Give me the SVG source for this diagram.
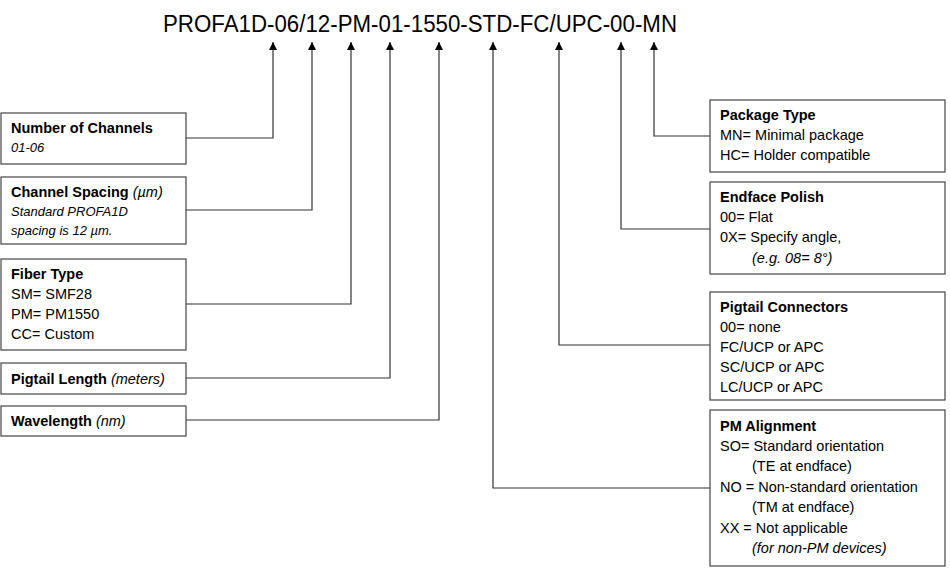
<svg xmlns="http://www.w3.org/2000/svg" width="950" height="570" viewBox="0 0 950 570">
<defs>
<marker id="ah" viewBox="0 0 10 10" refX="10" refY="5" markerWidth="10" markerHeight="8" markerUnits="userSpaceOnUse" orient="auto">
<path d="M0,0 L10,5 L0,10 Z" fill="#000"/>
</marker>
<style>
.box{fill:#fff;stroke:#444;stroke-width:1.2}
text{font-family:"Liberation Sans",Arial,sans-serif;font-size:14.5px;fill:#000}
.b{font-weight:bold}
.i{font-style:italic}
.s{font-size:13px}
.c{fill:none;stroke:#333;stroke-width:1.2}
</style>
</defs>
<rect width="950" height="570" fill="#fff"/>
<text x="163" y="32" style="font-size:23px" textLength="514" lengthAdjust="spacingAndGlyphs">PROFA1D-06/12-PM-01-1550-STD-FC/UPC-00-MN</text>
<g id="connectors">
<polyline class="c" points="186,138 273,138 273,42" marker-end="url(#ah)"/>
<polyline class="c" points="186,210 312,210 312,42" marker-end="url(#ah)"/>
<polyline class="c" points="186,304 351,304 351,42" marker-end="url(#ah)"/>
<polyline class="c" points="186,378 390,378 390,42" marker-end="url(#ah)"/>
<polyline class="c" points="186,420 439,420 439,42" marker-end="url(#ah)"/>
<polyline class="c" points="710,488 493,488 493,42" marker-end="url(#ah)"/>
<polyline class="c" points="710,345 559,345 559,42" marker-end="url(#ah)"/>
<polyline class="c" points="710,229 621,229 621,42" marker-end="url(#ah)"/>
<polyline class="c" points="710,136 654,136 654,42" marker-end="url(#ah)"/>
</g>
<g id="num-channels">
<rect class="box" x="1" y="113" width="185" height="51"/>
<text class="b" x="11" y="133">Number of Channels</text>
<text class="i s" x="11" y="152">01-06</text>
</g>
<g id="channel-spacing">
<rect class="box" x="1" y="177" width="185" height="67"/>
<text x="11" y="197"><tspan class="b">Channel Spacing</tspan> <tspan class="i">(µm)</tspan></text>
<text class="i s" x="11" y="216">Standard PROFA1D</text>
<text class="i s" x="11" y="235">spacing is 12 µm.</text>
</g>
<g id="fiber-type">
<rect class="box" x="1" y="259" width="185" height="91"/>
<text class="b" x="11" y="279">Fiber Type</text>
<text x="11" y="299">SM= SMF28</text>
<text x="11" y="319">PM= PM1550</text>
<text x="11" y="339">CC= Custom</text>
</g>
<g id="pigtail-length">
<rect class="box" x="1" y="363" width="185" height="31"/>
<text x="11" y="384"><tspan class="b">Pigtail Length</tspan> <tspan class="i">(meters)</tspan></text>
</g>
<g id="wavelength">
<rect class="box" x="1" y="406" width="185" height="30"/>
<text x="11" y="426"><tspan class="b">Wavelength</tspan> <tspan class="i">(nm)</tspan></text>
</g>
<g id="package-type">
<rect class="box" x="710" y="100" width="235" height="72"/>
<text class="b" x="720" y="120">Package Type</text>
<text x="720" y="140">MN= Minimal package</text>
<text x="720" y="160">HC= Holder compatible</text>
</g>
<g id="endface-polish">
<rect class="box" x="710" y="182" width="235" height="92"/>
<text class="b" x="720" y="202">Endface Polish</text>
<text x="720" y="222">00= Flat</text>
<text x="720" y="242">0X= Specify angle,</text>
<text class="i" x="752" y="263">(e.g. 08= 8°)</text>
</g>
<g id="pigtail-connectors">
<rect class="box" x="710" y="292" width="235" height="108"/>
<text class="b" x="720" y="312">Pigtail Connectors</text>
<text x="720" y="332">00= none</text>
<text x="720" y="352">FC/UCP or APC</text>
<text x="720" y="372">SC/UCP or APC</text>
<text x="720" y="392">LC/UCP or APC</text>
</g>
<g id="pm-alignment">
<rect class="box" x="710" y="410" width="235" height="156"/>
<text class="b" x="720" y="431">PM Alignment</text>
<text x="720" y="451">SO= Standard orientation</text>
<text x="752" y="471">(TE at endface)</text>
<text x="720" y="492">NO = Non-standard orientation</text>
<text x="752" y="512">(TM at endface)</text>
<text x="720" y="533">XX = Not applicable</text>
<text class="i" x="752" y="553">(for non-PM devices)</text>
</g>
</svg>
